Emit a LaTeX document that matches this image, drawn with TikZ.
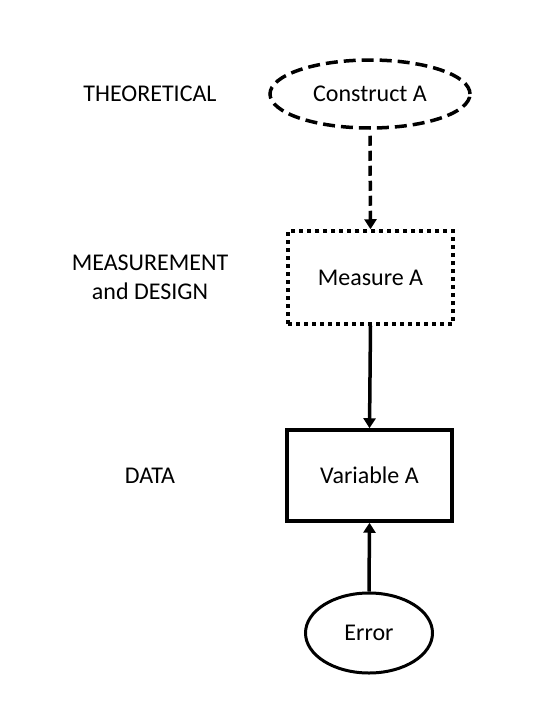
\documentclass[tikz,border=0pt]{standalone}
\usepackage{fontspec}
\setmainfont{Carlito}
\usetikzlibrary{shapes.geometric,arrows.meta}
\begin{document}
\begin{tikzpicture}[x=1pt,y=-1pt,
  lbl/.style={font=\fontsize{24}{29}\selectfont, align=center},
  txt/.style={font=\fontsize{24}{29}\selectfont},
  arr/.style={line width=3.5pt,-{Triangle[length=10pt,width=12pt]}},
  dashpat/.style={dash pattern=on 12pt off 6pt}
]
\useasboundingbox[fill=white] (0,0) rectangle (537,720);
\node[lbl] (theo) at (150,94) {THEORETICAL};
\node[lbl] (meas) at (150,277.5) {MEASUREMENT\\and DESIGN};
\node[lbl] (data) at (150,476) {DATA};
\node[txt, draw, ellipse, line width=3.5pt, dashpat, minimum width=200pt, minimum height=68pt, inner sep=0pt] (ca) at (370,94) {Construct A};
\node[txt, draw, line width=3.5pt, dash pattern=on 4pt off 4pt, minimum width=165pt, minimum height=93pt, inner sep=0pt] (ma) at (370.5,277.5) {Measure A};
\node[txt, draw, line width=3.5pt, minimum width=165pt, minimum height=91pt, inner sep=0pt] (va) at (369.5,475.5) {Variable A};
\node[txt, draw, ellipse, line width=3pt, minimum width=127pt, minimum height=80pt, inner sep=0pt] (err) at (369,633) {Error};
\draw[arr, dash pattern=on 10pt off 5pt] ([yshift=-6pt]ca.south) -- (ma.north);
\draw[arr] (ma.south) -- (va.north);
\draw[arr] (err.north) -- (va.south);
\end{tikzpicture}
\end{document}
